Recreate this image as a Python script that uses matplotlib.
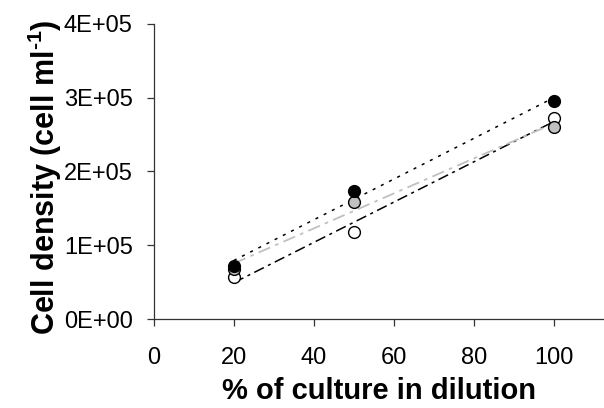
import numpy as np
import matplotlib
matplotlib.use("Agg")
import matplotlib.pyplot as plt

plt.rcParams['font.family'] = ['Liberation Sans', 'DejaVu Sans']
plt.rcParams['mathtext.fontset'] = 'custom'
plt.rcParams['mathtext.rm'] = 'Liberation Sans:bold'
plt.rcParams['mathtext.bf'] = 'Liberation Sans:bold'

x = [20, 50, 100]
black_vals = [72000, 174000, 296000]
grey_vals = [68000, 158500, 261000]
white_vals = [57500, 118000, 273000]

xticks = [0, 20, 40, 60, 80, 100]
yticks = [0, 100000, 200000, 300000, 400000]
ytick_labels = ["0E+00", "1E+05", "2E+05", "3E+05", "4E+05"]

fig = plt.figure(figsize=(6.04, 4.08), dpi=100)
ax = fig.add_axes([153.7/604, 89/408, (604-153.7)/604, (319-24)/408])

xa = np.array(x, dtype=float)

def trend(vals, color, dashes, lw):
    p = np.polyfit(xa, np.array(vals, dtype=float), 1)
    xs = np.array([min(x), max(x)], dtype=float)
    ax.plot(xs, np.polyval(p, xs), color=color, lw=lw, dashes=dashes, zorder=2)

trend(black_vals, 'black', (2, 4), 1.1)
trend(white_vals, 'black', (7, 3, 2, 3), 1.1)
trend(grey_vals, '#c0c0c0', (7, 3, 2, 3), 1.3)

ms = 8.5
ax.plot(x, white_vals, 'o', mfc='white', mec='black', mew=1.0, ms=ms, ls='none', zorder=3)
ax.plot(x, grey_vals, 'o', mfc='#c0c0c0', mec='black', mew=1.0, ms=ms, ls='none', zorder=4)
ax.plot(x, black_vals, 'o', mfc='black', mec='black', mew=1.0, ms=ms, ls='none', zorder=5)

ax.set_xlim(0, 112.4)
ax.set_ylim(0, 400000)
ax.set_xticks(xticks)
ax.set_xticklabels([str(t) for t in xticks])
ax.set_yticks(yticks)
ax.set_yticklabels(ytick_labels)

for s in ['top', 'right']:
    ax.spines[s].set_visible(False)
for s in ['left', 'bottom']:
    ax.spines[s].set_color('#333333')
    ax.spines[s].set_linewidth(0.9)

ax.tick_params(axis='both', direction='out', length=5, width=0.9, color='#333333', labelsize=17)
ax.tick_params(axis='y', pad=10)
ax.tick_params(axis='x', pad=15)

ax.set_xlabel('% of culture in dilution', fontsize=21, fontweight='bold', labelpad=6)
ax.set_ylabel('Cell density (cell ml$^{\\text{-1}}$)', fontsize=22, fontweight='bold')
ax.yaxis.set_label_coords(-0.20, 0.48)

fig.savefig('out.png', dpi=100)
